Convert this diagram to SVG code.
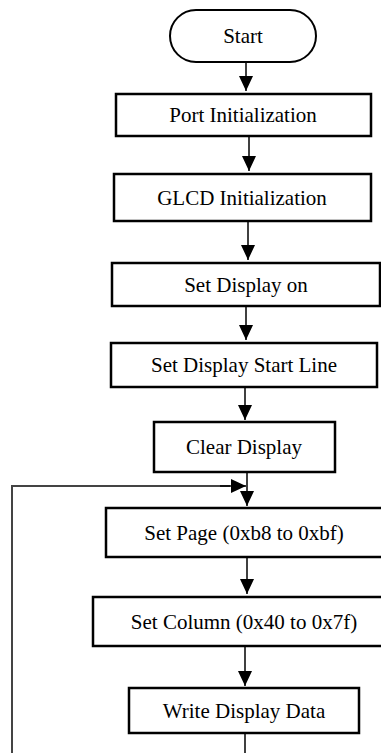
<svg xmlns="http://www.w3.org/2000/svg" width="381" height="753" viewBox="0 0 381 753">
<style>
.box{fill:#fff;stroke:#000;stroke-width:2.5}
.lbl{font-family:"Liberation Serif","Times New Roman",serif;font-size:21px;fill:#000;text-anchor:middle}
.ln{fill:none;stroke:#000;stroke-width:1.5}
.loop{fill:none;stroke:#444;stroke-width:2}
</style>
<defs>
<marker id="ah" markerUnits="userSpaceOnUse" markerWidth="15" markerHeight="14" refX="15" refY="7" orient="auto" viewBox="0 0 15 14">
<path d="M0,0 L15,7 L0,14 z" fill="#000"/>
</marker>
</defs>
<rect width="381" height="753" fill="#fff"/>
<g id="connectors">
<line class="ln" x1="246" y1="62" x2="246" y2="91" marker-end="url(#ah)"/>
<line class="ln" x1="249" y1="136" x2="249" y2="171" marker-end="url(#ah)"/>
<line class="ln" x1="248" y1="221" x2="248" y2="260" marker-end="url(#ah)"/>
<line class="ln" x1="246" y1="306" x2="246" y2="340" marker-end="url(#ah)"/>
<line class="ln" x1="245" y1="387" x2="245" y2="420" marker-end="url(#ah)"/>
<line class="ln" x1="247" y1="472" x2="247" y2="506" marker-end="url(#ah)"/>
<polyline class="loop" points="12,753 12,486 230,486"/>
<line class="ln" x1="220" y1="486" x2="246" y2="486" marker-end="url(#ah)"/>
<line class="ln" x1="247" y1="557" x2="247" y2="594" marker-end="url(#ah)"/>
<line class="ln" x1="245" y1="646" x2="245" y2="686" marker-end="url(#ah)"/>
<line class="ln" x1="245" y1="733" x2="245" y2="753"/>
</g>
<g id="start">
<rect class="box" x="170" y="10" width="146" height="52" rx="26" ry="26" style="stroke-width:2"/>
<text class="lbl" x="243" y="43">Start</text>
</g>
<g id="port-init">
<rect class="box" x="116" y="94" width="255" height="42"/>
<text class="lbl" x="243" y="122">Port Initialization</text>
</g>
<g id="glcd-init">
<rect class="box" x="114" y="174" width="257" height="47"/>
<text class="lbl" x="242" y="205">GLCD Initialization</text>
</g>
<g id="display-on">
<rect class="box" x="112" y="263" width="268" height="43"/>
<text class="lbl" x="246" y="292">Set Display on</text>
</g>
<g id="start-line">
<rect class="box" x="111" y="343" width="266" height="44"/>
<text class="lbl" x="244" y="372">Set Display Start Line</text>
</g>
<g id="clear">
<rect class="box" x="154" y="422" width="181" height="50"/>
<text class="lbl" x="244" y="454">Clear Display</text>
</g>
<g id="set-page">
<rect class="box" x="106" y="508" width="277" height="49"/>
<text class="lbl" x="244" y="540">Set Page (0xb8 to 0xbf)</text>
</g>
<g id="set-column">
<rect class="box" x="93" y="597" width="302" height="49"/>
<text class="lbl" x="244" y="629">Set Column (0x40 to 0x7f)</text>
</g>
<g id="write-data">
<rect class="box" x="129" y="688" width="230" height="45"/>
<text class="lbl" x="244" y="718">Write Display Data</text>
</g>
</svg>
